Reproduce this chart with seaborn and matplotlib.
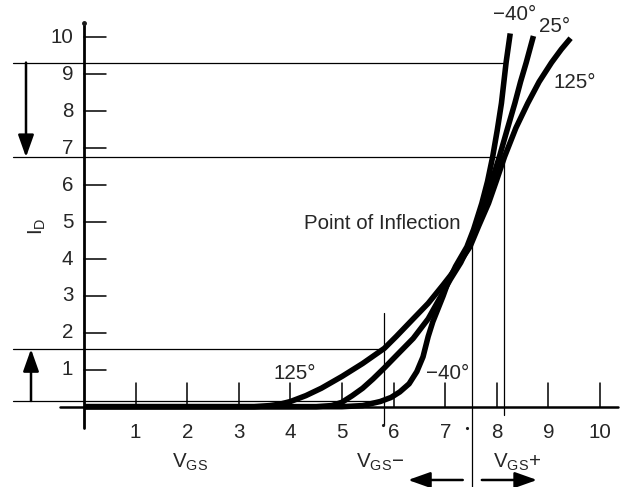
import matplotlib
matplotlib.use("Agg")
import matplotlib.pyplot as plt
import seaborn as sns
import pandas as pd

# ---- data ----
vgs_m40 = [0, 5.0, 5.4, 5.74, 5.95, 6.12, 6.3, 6.45, 6.57, 6.67, 6.76, 6.86, 6.96, 7.05, 7.2,
           7.42, 7.55, 7.71, 7.82, 7.92, 8.01, 8.09, 8.18, 8.26]
id_m40 = [0, 0, 0.03, 0.14, 0.25, 0.4, 0.62, 0.95, 1.35, 1.9, 2.3, 2.65, 3.0, 3.35, 3.8,
          4.33, 4.8, 5.51, 6.1, 6.77, 7.5, 8.22, 9.32, 10.11]

vgs_25 = [0, 4.5, 4.8, 5.0, 5.2, 5.4, 5.6, 5.82, 6.05, 6.38, 6.67, 6.96, 7.1, 7.3, 7.45,
          7.6, 7.77, 7.9, 8.05, 8.2, 8.35, 8.46, 8.57, 8.71]
id_25 = [0, 0, 0.03, 0.12, 0.3, 0.5, 0.75, 1.05, 1.38, 1.85, 2.38, 3.1, 3.45, 3.9, 4.33,
         4.85, 5.51, 6.1, 6.77, 7.5, 8.22, 8.8, 9.32, 10.04]

vgs_125 = [0, 3.3, 3.6, 3.8, 4.0, 4.3, 4.6, 5.0, 5.4, 5.82, 6.05, 6.38, 6.67, 6.96, 7.1,
           7.3, 7.48, 7.65, 7.84, 8.0, 8.15, 8.37, 8.6, 8.82, 9.06, 9.25, 9.43]
id_125 = [0, 0, 0.03, 0.07, 0.14, 0.3, 0.5, 0.82, 1.17, 1.58, 1.9, 2.38, 2.8, 3.3, 3.55,
          3.95, 4.33, 4.9, 5.51, 6.15, 6.77, 7.55, 8.22, 8.8, 9.32, 9.68, 9.98]

x_ticks = [1, 2, 3, 4, 5, 6, 7, 8, 9, 10]
y_ticks = [1, 2, 3, 4, 5, 6, 7, 8, 9, 10]

# reference levels (horizontal guide lines) and voltages (vertical guide lines)
id_upper = [9.32, 6.76]
id_lower = [1.56, 0.155]
vgs_minus = 5.82
vgs_inflect = 7.51
vgs_plus = 8.14
id_inflect = 4.73

sns.set_theme(style="white")
plt.rcParams["font.family"] = ["Liberation Sans", "DejaVu Sans"]
plt.rcParams["mathtext.fontset"] = "custom"
plt.rcParams["mathtext.rm"] = "Liberation Sans"
plt.rcParams["mathtext.default"] = "regular"

XLIM = (-84 / 51.6, (624 - 84) / 51.6)
YLIM = (-(487 - 406.7) / 36.92, 406.7 / 36.92)

fig = plt.figure(figsize=(6.24, 4.87), dpi=100)
ax = fig.add_axes([0, 0, 1, 1])

FS = 14.8
thin = dict(color="black", lw=0.9)

# guide lines
xl = -1.376
for lv in id_upper:
    ax.plot([xl, vgs_plus - 0.02], [lv, lv], **thin)
for lv in id_lower:
    ax.plot([xl, vgs_minus], [lv, lv], **thin)
ax.plot([vgs_minus, vgs_minus], [-0.5, 2.54], **thin)
ax.plot([vgs_inflect, vgs_inflect], [-2.2, id_inflect], **thin)
ax.plot([vgs_plus, vgs_plus], [-0.22, id_upper[1]], **thin)
ax.plot([vgs_minus - 0.03], [-0.5], "k.", ms=2.5)
ax.plot([7.42], [-0.58], "k.", ms=2.5)

# axes
ax.plot([0, 0], [-0.57, 10.39], color="black", lw=2)
ax.plot([0], [10.39], "ko", ms=2.5)
ax.plot([-0.47, 10.35], [0, 0], color="black", lw=1.8)
for t in y_ticks:
    ax.plot([0, 0.43], [t, t], color="black", lw=1.1)
    ax.text(-0.21, t, str(t), ha="right", va="center", fontsize=FS)
for t in x_ticks:
    ax.plot([t, t], [0, 0.65], color="black", lw=1.1)
    ax.text(t, -0.69, str(t), ha="center", va="center", fontsize=FS)

# curves
df = pd.concat([
    pd.DataFrame({"VGS": vgs_m40, "ID": id_m40, "T": "-40"}),
    pd.DataFrame({"VGS": vgs_25, "ID": id_25, "T": "25"}),
    pd.DataFrame({"VGS": vgs_125, "ID": id_125, "T": "125"}),
])
sns.lineplot(data=df, x="VGS", y="ID", units="T", estimator=None, sort=False,
             color="black", lw=4.0, ax=ax, legend=False,
             solid_capstyle="butt", solid_joinstyle="round")
ax.set_xlim(*XLIM)
ax.set_ylim(*YLIM)
ax.axis("off")

# arrows
ap = dict(arrowstyle="-|>,head_length=0.9,head_width=0.32", lw=1.8, color="black",
          shrinkA=0, shrinkB=0, mutation_scale=15)
ax.annotate("", xy=(-1.124, id_upper[1]), xytext=(-1.124, id_upper[0]), arrowprops=ap)
ax.annotate("", xy=(-1.027, id_lower[0]), xytext=(-1.027, id_lower[1]), arrowprops=ap)
ax.annotate("", xy=(6.28, -1.985), xytext=(7.34, -1.985), arrowprops=ap)
ax.annotate("", xy=(8.78, -1.985), xytext=(7.71, -1.985), arrowprops=ap)

# labels
ax.text(-0.91, 4.89, "I$_{D}$", rotation=90, ha="center", va="center", fontsize=FS)
ax.text(2.05, -1.52, "V$_{GS}$", ha="center", va="center", fontsize=FS)
ax.text(5.74, -1.52, "V$_{GS}$\u2212", ha="center", va="center", fontsize=FS)
ax.text(8.39, -1.52, "V$_{GS}$+", ha="center", va="center", fontsize=FS)
ax.text(7.29, 4.97, "Point of Inflection", ha="right", va="center", fontsize=FS)
ax.text(4.09, 0.91, "125°", ha="center", va="center", fontsize=FS)
ax.text(7.05, 0.91, "\u221240°", ha="center", va="center", fontsize=FS)
ax.text(8.35, 10.61, "\u221240°", ha="center", va="center", fontsize=FS)
ax.text(9.11, 10.3, "25°", ha="center", va="center", fontsize=FS)
ax.text(9.52, 8.77, "125°", ha="center", va="center", fontsize=FS)

fig.savefig("out.png", dpi=100)
